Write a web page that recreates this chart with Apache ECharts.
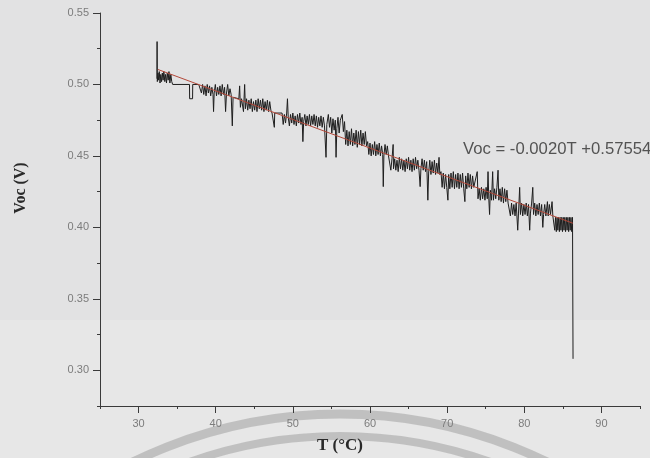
<!DOCTYPE html>
<html>
<head>
<meta charset="utf-8">
<script src="https://cdn.jsdelivr.net/npm/echarts@6/dist/echarts.min.js"></script>
<style>html,body{margin:0;padding:0;background:#e2e2e3;}#chart{width:650px;height:458px;}</style>
</head>
<body>
<div id="chart"></div>
<script>
// Measured open-circuit voltage vs temperature: [T (°C), Voc (V)]
const measuredTV = [
 [32.38,0.504],[32.40,0.530],[32.43,0.502],[32.52,0.508],[32.60,0.503],[32.68,0.509],[32.78,0.501],[32.88,0.507],[32.98,0.502],[33.08,0.508],[33.18,0.503],[33.28,0.509],[33.40,0.502],[33.50,0.507],[33.62,0.501],[33.72,0.508],[33.84,0.503],[33.94,0.509],[34.06,0.501],[34.18,0.507],[34.30,0.502],[34.42,0.500],
 [35.50,0.500],[36.60,0.500],[36.62,0.490],[37.00,0.490],[37.02,0.500],[37.80,0.500],
 [38.00,0.500],[38.15,0.494],[38.30,0.500],[38.45,0.493],[38.60,0.499],[38.75,0.492],[38.90,0.500],[39.05,0.494],[39.20,0.499],[39.35,0.492],[39.50,0.498],[39.65,0.493],[39.72,0.481],[39.80,0.494],[39.95,0.500],[40.10,0.492],[40.25,0.498],[40.40,0.493],[40.55,0.499],[40.70,0.492],[40.85,0.500],[41.00,0.493],[41.15,0.498],[41.28,0.481],[41.40,0.494],[41.55,0.500],[41.70,0.492],[41.85,0.497],[42.00,0.493],[42.15,0.471],[42.25,0.491],[42.40,0.490],[43.00,0.490],[43.10,0.499],[43.20,0.484],[43.35,0.490],[43.60,0.481],[43.75,0.500],[43.85,0.483],
 [44.00,0.490],[44.15,0.482],[44.30,0.489],[44.45,0.483],[44.60,0.490],[44.75,0.481],[44.90,0.488],[45.05,0.482],[45.20,0.489],[45.35,0.481],[45.50,0.490],[45.65,0.483],[45.80,0.489],[45.95,0.482],[46.10,0.490],[46.25,0.481],[46.40,0.488],[46.55,0.482],[46.70,0.489],[46.85,0.481],[47.00,0.488],[47.15,0.482],[47.30,0.480],[47.55,0.480],[47.60,0.470],[47.65,0.480],[48.60,0.480],
 [48.75,0.472],[48.90,0.479],[49.05,0.473],[49.20,0.480],[49.30,0.490],[49.40,0.477],[49.55,0.471],[49.70,0.479],[49.85,0.473],[50.00,0.480],[50.15,0.472],[50.30,0.478],[50.45,0.471],[50.60,0.479],[50.75,0.473],[50.90,0.480],[51.05,0.472],[51.20,0.477],[51.30,0.460],[51.40,0.474],[51.55,0.479],[51.70,0.471],[51.85,0.478],[52.00,0.472],[52.15,0.479],[52.30,0.471],[52.45,0.478],[52.60,0.472],[52.75,0.479],[52.90,0.471],[53.05,0.478],[53.20,0.470],[53.35,0.477],[53.50,0.471],[53.65,0.478],[53.80,0.470],[53.95,0.477],
 [54.10,0.471],[54.30,0.449],[54.40,0.472],[54.60,0.479],[54.75,0.470],[54.90,0.477],[55.05,0.466],[55.20,0.476],[55.35,0.468],[55.50,0.475],[55.60,0.449],[55.70,0.469],[55.85,0.477],[56.00,0.466],[56.15,0.475],[56.40,0.479],[56.55,0.467],[56.70,0.474],
 [56.85,0.458],[57.00,0.468],[57.15,0.457],[57.30,0.467],[57.45,0.458],[57.60,0.469],[57.75,0.457],[57.90,0.466],[58.05,0.458],[58.20,0.468],[58.35,0.456],[58.50,0.467],[58.65,0.458],[58.80,0.468],[58.95,0.457],[59.10,0.466],[59.25,0.458],[59.40,0.467],[59.55,0.457],
 [59.70,0.460],[59.85,0.451],[60.00,0.459],[60.15,0.450],[60.30,0.458],[60.45,0.451],[60.60,0.460],[60.75,0.450],[60.90,0.458],[61.05,0.451],[61.20,0.459],[61.35,0.450],[61.50,0.457],[61.65,0.451],[61.72,0.4285],[61.80,0.450],[61.95,0.458],[62.10,0.451],[62.25,0.457],[62.40,0.450],
 [62.55,0.449],[62.70,0.440],[62.85,0.448],[63.00,0.458],[63.05,0.441],[63.20,0.448],[63.35,0.440],[63.50,0.447],[63.65,0.439],[63.80,0.449],[63.95,0.441],[64.10,0.448],[64.25,0.440],[64.40,0.447],[64.55,0.439],[64.70,0.448],[64.85,0.441],[65.00,0.449],[65.15,0.440],[65.30,0.447],[65.45,0.439],[65.60,0.448],[65.75,0.440],[65.90,0.449],[66.05,0.441],[66.20,0.447],[66.35,0.440],[66.50,0.4285],[66.60,0.441],[66.75,0.448],[66.90,0.440],[67.05,0.447],[67.20,0.439],[67.35,0.446],
 [67.50,0.419],[67.60,0.438],[67.75,0.447],[67.90,0.437],[68.05,0.446],[68.20,0.438],[68.35,0.447],[68.50,0.437],[68.65,0.445],[68.80,0.438],[68.95,0.449],[69.05,0.437],[69.20,0.439],[69.35,0.428],[69.50,0.438],[69.65,0.427],[69.80,0.437],[69.95,0.428],[70.10,0.419],[70.20,0.437],[70.35,0.427],[70.50,0.438],[70.65,0.428],[70.80,0.439],[70.95,0.427],[71.10,0.437],[71.25,0.428],[71.40,0.438],[71.55,0.427],[71.70,0.437],[71.85,0.428],[72.00,0.438],[72.15,0.427],[72.30,0.418],[72.40,0.436],[72.55,0.427],[72.70,0.438],[72.85,0.428],[73.00,0.437],[73.15,0.427],[73.30,0.436],[73.45,0.428],[73.60,0.427],[73.90,0.439],[74.00,0.420],[74.15,0.427],[74.30,0.419],[74.45,0.428],[74.60,0.420],[74.75,0.427],[74.90,0.419],[75.05,0.428],[75.20,0.420],[75.30,0.439],[75.40,0.420],[75.50,0.409],[75.60,0.426],[75.75,0.419],[75.90,0.439],[76.00,0.419],[76.15,0.427],[76.30,0.420],[76.45,0.428],[76.60,0.440],[76.70,0.419],[76.85,0.427],
 [77.00,0.418],[77.15,0.428],[77.30,0.417],[77.45,0.427],[77.60,0.418],[77.75,0.426],[77.90,0.417],[78.05,0.418],[78.20,0.408],[78.35,0.417],[78.50,0.409],[78.65,0.416],[78.80,0.408],[78.95,0.417],[79.15,0.398],[79.25,0.410],[79.40,0.428],[79.50,0.409],[79.65,0.417],[79.80,0.408],[79.95,0.416],[80.10,0.409],[80.25,0.417],[80.40,0.408],[80.55,0.416],[80.70,0.398],[80.80,0.410],[80.95,0.417],[81.10,0.428],[81.20,0.409],[81.35,0.417],[81.50,0.408],[81.65,0.416],[81.80,0.409],[81.95,0.417],[82.10,0.408],[82.25,0.416],[82.40,0.400],[82.50,0.409],[82.65,0.416],[82.80,0.408],[83.00,0.418],[83.10,0.408],[83.25,0.416],[83.40,0.409],[83.60,0.418],[83.70,0.408],[83.85,0.407],
 [83.95,0.398],[84.05,0.407],[84.15,0.397],[84.25,0.407],[84.35,0.398],[84.45,0.407],[84.55,0.397],[84.65,0.407],[84.75,0.398],[84.85,0.407],[84.95,0.397],[85.05,0.407],[85.15,0.398],[85.25,0.407],[85.35,0.397],[85.45,0.407],[85.55,0.398],[85.65,0.407],[85.75,0.397],[85.85,0.407],[85.95,0.398],[86.05,0.407],[86.15,0.397],[86.25,0.407],[86.30,0.407],[86.32,0.308]
];

// Linear fit endpoints
const fitT = [32.5, 86.3];
const fitV = [0.5105, 0.4029];

// Tick labels
const xTickLabels = [30, 40, 50, 60, 70, 80, 90];
const yTickLabels = ['0.30', '0.35', '0.40', '0.45', '0.50', '0.55'];

const fitEquation = 'Voc = -0.0020T +0.57554';

const chart = echarts.init(document.getElementById('chart'), null, {renderer: 'canvas'});
const axisColor = '#3a3a3a';
const labelColor = '#7c7c7c';

// main plot area geometry
const G = {left: 100, right: 10, top: 13, bottom: 52};
const plotW = 650 - G.left - G.right, plotH = 458 - G.top - G.bottom;
const xMin = 25, xMax = 95, yMin = 0.275, yMax = 0.55;
const pxPerX = plotW / (xMax - xMin), pxPerY = plotH / (yMax - yMin);
const xMajMin = xTickLabels[0], xMajMax = xTickLabels[xTickLabels.length - 1];
const yMajMin = parseFloat(yTickLabels[0]), yMajMax = parseFloat(yTickLabels[yTickLabels.length - 1]);

chart.setOption({
  backgroundColor: '#e2e2e3',
  animation: false,
  grid: [
    {left: G.left, right: G.right, top: G.top, bottom: G.bottom},
    // grid carrying the major x ticks (30..90)
    {left: G.left + (xMajMin - xMin) * pxPerX, right: G.right + (xMax - xMajMax) * pxPerX, top: G.top, bottom: G.bottom},
    // grid carrying the major y ticks (0.30..0.55)
    {left: G.left, right: G.right, top: G.top + (yMax - yMajMax) * pxPerY, bottom: G.bottom + (yMajMin - yMin) * pxPerY}
  ],
  xAxis: [
    {
      gridIndex: 0, type: 'value', min: xMin, max: xMax, interval: 5,
      axisLine: {show: true, onZero: false, lineStyle: {color: axisColor, width: 1}},
      axisTick: {show: true, length: 3, lineStyle: {color: axisColor}},
      splitLine: {show: false}, axisLabel: {show: false}
    },
    {
      gridIndex: 1, type: 'value', min: xMajMin, max: xMajMax, interval: 10,
      axisLine: {show: false, onZero: false},
      axisTick: {show: true, length: 7, lineStyle: {color: axisColor}},
      splitLine: {show: false},
      axisLabel: {color: labelColor, fontSize: 11, fontFamily: 'Liberation Sans', margin: 12,
        formatter: v => xTickLabels.indexOf(Math.round(v)) >= 0 ? String(Math.round(v)) : ''}
    },
    {gridIndex: 2, type: 'value', min: 0, max: 1, show: false}
  ],
  yAxis: [
    {
      gridIndex: 0, type: 'value', min: yMin, max: yMax, interval: 0.025,
      axisLine: {show: true, lineStyle: {color: axisColor, width: 1}},
      axisTick: {show: true, length: 3, lineStyle: {color: axisColor}},
      splitLine: {show: false}, axisLabel: {show: false}
    },
    {gridIndex: 1, type: 'value', min: 0, max: 1, show: false},
    {
      gridIndex: 2, type: 'value', min: yMajMin, max: yMajMax, interval: 0.05,
      axisLine: {show: false},
      axisTick: {show: true, length: 7, lineStyle: {color: axisColor}},
      splitLine: {show: false},
      axisLabel: {color: labelColor, fontSize: 11, fontFamily: 'Liberation Sans', margin: 11,
        formatter: v => { const s = v.toFixed(2); return yTickLabels.indexOf(s) >= 0 ? s : ''; }}
    }
  ],
  graphic: {elements: [
    {type: 'rect', z: -10, silent: true, shape: {x: 0, y: 320, width: 650, height: 138}, style: {fill: '#e7e7e7'}},
    {type: 'circle', z: -9, silent: true, shape: {cx: 340, cy: 885, r: 471}, style: {fill: 'none', stroke: 'rgba(150,150,150,0.48)', lineWidth: 9}},
    {type: 'circle', z: -9, silent: true, shape: {cx: 340, cy: 885, r: 449}, style: {fill: 'none', stroke: 'rgba(150,150,150,0.48)', lineWidth: 8}},
    {type: 'text', left: 463, top: 141, style: {text: fitEquation, fill: '#535353', font: '16.7px "Liberation Sans"'}},
    {type: 'text', x: 21, y: 188, rotation: Math.PI / 2, style: {text: 'Voc (V)', fill: '#2a2a2a', font: 'bold 16px "Liberation Serif"', align: 'center', verticalAlign: 'middle'}},
    {type: 'text', x: 340, y: 446, style: {text: 'T (°C)', fill: '#2a2a2a', font: 'bold 17px "Liberation Serif"', align: 'center', verticalAlign: 'middle'}}
  ]},
  series: [
    {
      type: 'line', xAxisIndex: 0, yAxisIndex: 0, data: measuredTV, showSymbol: false, symbol: 'none',
      lineStyle: {color: '#1e1e1e', width: 1}, z: 3
    },
    {
      type: 'line', xAxisIndex: 0, yAxisIndex: 0, data: fitT.map((t, i) => [t, fitV[i]]), showSymbol: false, symbol: 'none',
      lineStyle: {color: '#b4493a', width: 1}, z: 4
    }
  ]
});
</script>
</body>
</html>
